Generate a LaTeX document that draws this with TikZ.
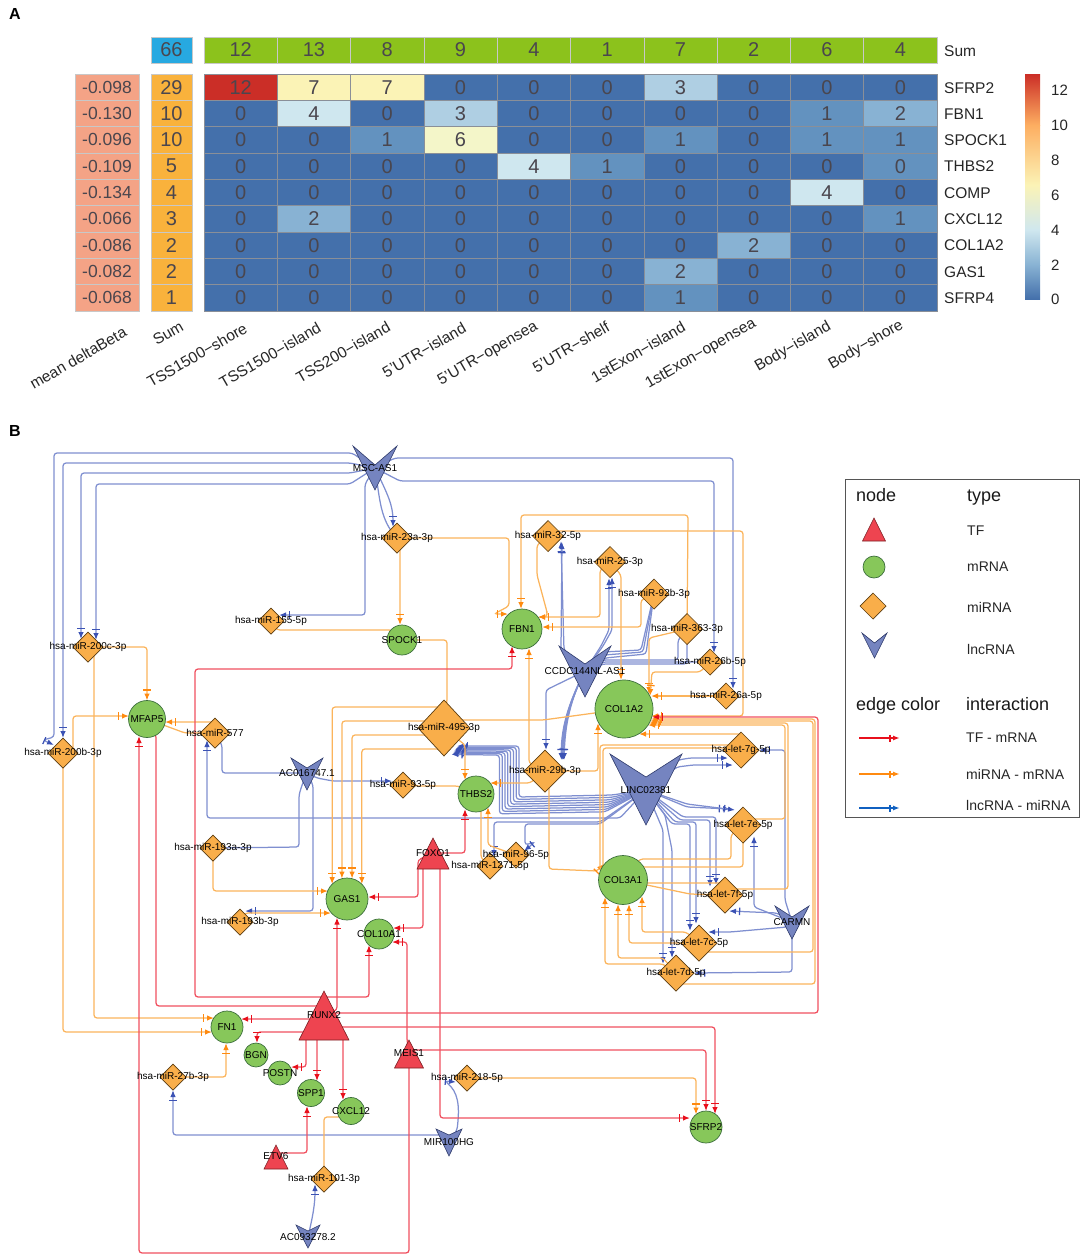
\documentclass[tikz,border=0pt]{standalone}
\usepackage{fontspec}
\setmainfont{Liberation Sans}
\usetikzlibrary{arrows.meta,shapes.geometric,calc}
\definecolor{h0}{HTML}{4470AB}\definecolor{h1}{HTML}{6392BF}\definecolor{h2}{HTML}{88B2D3}
\definecolor{h3}{HTML}{AFCFE3}\definecolor{h4}{HTML}{CFE7EF}\definecolor{h6}{HTML}{F4F6C9}
\definecolor{h7}{HTML}{FBF3B6}\definecolor{h12}{HTML}{CB2E27}
\definecolor{numc}{HTML}{4A464E}\definecolor{gridc}{HTML}{8A8F98}\definecolor{lightg}{HTML}{C8C8C8}
\definecolor{oline}{HTML}{FBB45C}\definecolor{otip}{HTML}{FF8A10}
\definecolor{bline}{HTML}{7F8FD0}\definecolor{btip}{HTML}{3B52B4}
\definecolor{rline}{HTML}{F0505F}\definecolor{rtip}{HTML}{E8101C}
\definecolor{vfill}{HTML}{7584C0}\definecolor{vdraw}{HTML}{2E3A6A}
\definecolor{tfill}{HTML}{EE4450}\definecolor{tdraw}{HTML}{7A1E22}
\definecolor{cfill}{HTML}{87C75A}\definecolor{cdraw}{HTML}{3C6E3C}
\definecolor{dfill}{HTML}{F9AE4A}\definecolor{ddraw}{HTML}{5C3D10}
\definecolor{legb}{HTML}{1060C0}\definecolor{legbox}{HTML}{555555}
\pgfdeclarelayer{edges}\pgfsetlayers{edges,main}
\newcommand\lb[1]{\makebox[0pt]{\raisebox{-.8pt}{#1}}}
\newcommand\dia[5]{\node[mirna,minimum size=#4] (#1) at (#2,#3) {\lb{#5}};}
\newcommand\mr[5]{\node[mrna,minimum size=#4] (#1) at (#2,#3) {\lb{#5}};}
\newcommand\tfn[7]{\filldraw[tfs] (#2,#3) -- ({#2+#5},#4) -- ({#2-#5},#4) -- cycle;
  \node[lab] (#1) at (#2,#6) {#7};}
\newcommand\lnc[8]{\filldraw[lncs] ({#2-#6},#3) -- (#2,#4) -- ({#2+#6},#3) -- (#2,#5) -- cycle;
  \node[lab] (#1) at (#2,#7) {#8};}
\tikzset{
 x=1pt,y=-1pt,
 lab/.style={inner sep=0pt,outer sep=0pt,font=\fontsize{10}{11}\selectfont,text=black},
 mirna/.style={diamond,draw=ddraw,fill=dfill,line width=.7pt,inner sep=0pt,outer sep=0pt,font=\fontsize{10}{11}\selectfont},
 mrna/.style={circle,draw=cdraw,fill=cfill,line width=.7pt,inner sep=0pt,outer sep=0pt,font=\fontsize{10}{11}\selectfont},
 tfs/.style={draw=tdraw,fill=tfill,line width=.6pt,line join=miter},
 lncs/.style={draw=vdraw,fill=vfill,line width=.6pt,line join=miter},
 cell/.style={rectangle,draw=gridc,line width=.6pt,minimum width=73.3pt,minimum height=26.33pt,inner sep=0pt,outer sep=0pt,text=numc,font=\fontsize{20}{22}\selectfont},
 sidecell/.style={rectangle,draw=lightg,line width=.6pt,minimum height=26.33pt,inner sep=0pt,outer sep=0pt,text=numc,font=\fontsize{20}{22}\selectfont},
 rowl/.style={anchor=west,inner sep=0pt,font=\fontsize{15.5}{17}\selectfont,text=black!85},
 coll/.style={rotate=30,inner sep=0pt,font=\fontsize{15.5}{17}\selectfont,text=black!85},
 cbl/.style={anchor=west,inner sep=0pt,font=\fontsize{15}{17}\selectfont,text=black!85},
 leg/.style={anchor=west,inner sep=0pt,font=\fontsize{14}{15}\selectfont,text=black!85},
 legh/.style={anchor=base west,inner sep=0pt,font=\fontsize{18}{20}\selectfont,text=black!90},
 panel/.style={inner sep=0pt,font=\fontsize{16}{18}\selectfont\bfseries},
 ol/.style={draw=oline,line width=1.25pt,rounded corners=3pt},
 bl/.style={draw=bline,line width=1.25pt,rounded corners=3pt},
 rl/.style={draw=rline,line width=1.25pt,rounded corners=3pt},
 ot/.style={ol,-{Bar[color=otip,width=7.5pt,length=1.2pt,sep=3pt]Latex[color=otip,length=7pt,width=5.5pt]}},
 bt/.style={bl,-{Bar[color=btip,width=7.5pt,length=1.2pt,sep=3pt]Latex[color=btip,length=7pt,width=5.5pt]}},
 rt/.style={rl,-{Bar[color=rtip,width=7.5pt,length=1.2pt,sep=3pt]Latex[color=rtip,length=7pt,width=5.5pt]}},
 lgarrow/.style={line width=1.8pt,-{Bar[width=7pt,length=1pt,sep=2pt]Latex[length=7pt,width=5pt]}},
}
\begin{document}
\begin{tikzpicture}
\path[use as bounding box] (0,0) rectangle (1084,1259);
\node[panel] (pA) at (15,14) {A};
\node[panel] (pB) at (15,431) {B};
% ---- heat map
\node[sidecell,minimum width=41pt,fill={rgb,255:red,39;green,169;blue,225}] (tot) at (171.5,50) {66};
\foreach \v [count=\c from 0] in {12,13,8,9,4,1,7,2,6,4}
  \node[sidecell,minimum width=73.3pt,fill={rgb,255:red,140;green,194;blue,28}] (top\c) at ({204+73.3*(\c+.5)},50) {\v};
\node[rowl] (sumr) at (944,51) {Sum};
\foreach \row [count=\r from 0] in {{12,7,7,0,0,0,3,0,0,0},{0,4,0,3,0,0,0,0,1,2},{0,0,1,6,0,0,1,0,1,1},{0,0,0,0,4,1,0,0,0,0},{0,0,0,0,0,0,0,0,4,0},{0,2,0,0,0,0,0,0,0,1},{0,0,0,0,0,0,0,2,0,0},{0,0,0,0,0,0,2,0,0,0},{0,0,0,0,0,0,1,0,0,0}}
  \foreach \v [count=\c from 0] in \row
    \node[cell,fill=h\v] (cell\r-\c) at ({204+73.3*(\c+.5)},{74+26.33*(\r+.5)}) {\v};
\node[cell,fill=h1] (cellx) at ({204+73.3*9.5},{74+26.33*3.5}) {0};
\foreach \v [count=\r from 0] in {29,10,10,5,4,3,2,2,1}
  \node[sidecell,minimum width=41pt,fill={rgb,255:red,249;green,178;blue,60}] (sm\r) at (171.5,{74+26.33*(\r+.5)}) {\v};
\foreach \v/\dy [count=\r from 0] in {-0.098/1,-0.130/2,-0.096/2,-0.109/1,-0.134/1,-0.066/2.5,-0.086/2.5,-0.082/2.5,-0.068/3}
  \node[sidecell,minimum width=64pt,fill={rgb,255:red,244;green,163;blue,134},font=\fontsize{17.5}{19}\selectfont] (md\r) at (107,{74+26.33*(\r+.5)}) {\raisebox{-\dy pt}{\v}};
\foreach \t [count=\r from 0] in {SFRP2,FBN1,SPOCK1,THBS2,COMP,CXCL12,COL1A2,GAS1,SFRP4}
  \node[rowl] (rl\r) at (944,{74.5+26.33*(\r+.5)}) {\t};
\foreach \t/\x/\y [count=\i] in {mean deltaBeta/78/358,Sum/168/333,TSS1500−shore/197/355,TSS1500−island/270/355,TSS200−island/343/352,5'UTR−island/424/350,5'UTR−opensea/488/354,5'UTR−shelf/571/347,1stExon−island/638/352,1stExon−opensea/701/354,Body−island/793/347,Body−shore/866/345}
  \node[coll] (cl\i) at (\x,\y) {\t};
% colour bar
\shade[bottom color=h0,top color=h2] (1025,299) rectangle (1040,265);
\shade[bottom color=h2,top color=h4] (1025,265) rectangle (1040,230);
\shade[bottom color=h4,top color=h7] (1025,230) rectangle (1040,185);
\shade[bottom color=h7,top color={rgb,255:red,253;green,174;blue,97}] (1025,185) rectangle (1040,125);
\shade[bottom color={rgb,255:red,253;green,174;blue,97},top color=h12] (1025,125) rectangle (1040,74);
\foreach \t/\y [count=\i] in {12/90,10/125,8/160,6/195,4/230,2/265,0/299}
  \node[cbl] (cb\i) at (1051,\y) {\t};
% ---- network nodes
\lnc{MSC}{375}{446}{465}{490}{22}{468}{MSC-AS1}
\lnc{CCDC}{585}{646}{664}{697}{26}{671}{CCDC144NL-AS1}
\lnc{LINC}{646}{754}{777}{825}{36}{790}{LINC02381}
\lnc{AC016}{307}{758}{768}{790}{16}{773}{AC016747.1}
\lnc{CARMN}{792}{906}{917}{939}{17}{922}{CARMN}
\lnc{MIR100}{449}{1129}{1135}{1156}{13}{1142}{MIR100HG}
\lnc{AC093}{308}{1225}{1231}{1248}{12}{1237}{AC093278.2}
\dia{mi23a}{397}{538}{30}{hsa-miR-23a-3p}
\dia{mi155}{271}{621}{26}{hsa-miR-155-5p}
\dia{mi200c}{88}{647}{30}{hsa-miR-200c-3p}
\dia{mi577}{215}{733}{30}{hsa-miR-577}
\dia{mi200b}{63}{753}{30}{hsa-miR-200b-3p}
\dia{mi93}{403}{785}{26}{hsa-miR-93-5p}
\dia{mi193a}{213}{848}{26}{hsa-miR-193a-3p}
\node[mirna,minimum width=52pt,minimum height=56pt] (mi495) at (444,728) {\lb{hsa-miR-495-3p}};
\dia{mi32}{548}{536}{31}{hsa-miR-32-5p}
\dia{mi25}{610}{562}{31}{hsa-miR-25-3p}
\dia{mi92b}{654}{594}{30}{hsa-miR-92b-3p}
\dia{mi363}{687}{629}{31}{hsa-miR-363-3p}
\dia{mi26b}{710}{662}{26}{hsa-miR-26b-5p}
\dia{mi26a}{726}{696}{26}{hsa-miR-26a-5p}
\dia{mi29b}{545}{771}{42}{hsa-miR-29b-3p}
\dia{l7g}{741}{750}{36}{hsa-let-7g-5p}
\dia{l7e}{743}{825}{36}{hsa-let-7e-5p}
\dia{l7f}{725}{895}{36}{hsa-let-7f-5p}
\dia{l7c}{699}{943}{36}{hsa-let-7c-5p}
\dia{l7d}{676}{973}{36}{hsa-let-7d-5p}
\dia{mi1271}{490}{866}{26}{}
\dia{mi96}{516}{855}{26}{}
\node[lab] (t1271) at (490,866) {hsa-miR-1271-5p};
\node[lab] (t96) at (516,855) {hsa-miR-96-5p};
\dia{mi193b}{240}{922}{26}{hsa-miR-193b-3p}
\dia{mi27b}{173}{1077}{26}{hsa-miR-27b-3p}
\dia{mi101}{324}{1179}{26}{hsa-miR-101-3p}
\dia{mi218}{467}{1078}{26}{hsa-miR-218-5p}
\mr{SPOCK}{402}{640}{30}{SPOCK1}
\mr{MFAP}{147}{719}{37}{MFAP5}
\mr{FBN}{522}{629}{40}{FBN1}
\mr{COL1}{624}{709}{58}{COL1A2}
\mr{THBS}{476}{794}{36}{THBS2}
\mr{COL3}{623}{880}{49}{COL3A1}
\mr{GAS}{347}{899}{42}{GAS1}
\mr{COL10}{379}{934}{30}{COL10A1}
\mr{FN}{227}{1027}{32}{FN1}
\mr{BGN}{256}{1055}{24}{BGN}
\mr{POSTN}{280}{1073}{24}{POSTN}
\mr{SPP}{311}{1093}{27}{SPP1}
\mr{CXCL}{351}{1111}{27}{CXCL12}
\mr{SFRP}{706}{1127}{32}{SFRP2}
\tfn{FOXO}{433}{838}{869}{16}{853}{FOXO1}
\tfn{RUNX}{324}{991}{1040}{25}{1015}{RUNX2}
\tfn{MEIS}{409}{1040}{1068}{14.5}{1053}{MEIS1}
\tfn{ETV}{276}{1145}{1169}{12}{1156}{ETV6}
% ---- edges
\begin{pgfonlayer}{edges}
% MSC-AS1
\draw[bt] (MSC.center) -- (352,453) -- (54,453) -- (54,737) -- (43,740) -- ($(mi200b)+(-9,-8)$);
\draw[bt] (MSC.center) -- (350,463) -| ($(mi200b)+(0,-15)$);
\draw[bt] (MSC.center) -- (350,473) -| ($(mi200c)+(-7,-8)$);
\draw[bt] (MSC.center) -- (350,484) -| ($(mi200c)+(8,-7)$);
\draw[bt] (MSC.center) -- (365,484) |- ($(mi155)+(8,-6)$);
\draw[bt] (MSC.center) .. controls (388,495) and (393,505) .. ($(mi23a)+(-4,-11)$);
\draw[bl] (MSC.center) .. controls (380,500) and (380,520) .. (mi23a.center);
\draw[bt] (MSC.center) -- (395,458) -| ($(mi26a)+(7,-7)$);
\draw[bt] (MSC.center) -- (400,481) -| ($(mi26b)+(4,-9)$);
% AC016747.1
\draw[bl] (AC016.center) -| (222,745) -- (mi577.center);
\draw[bt] (AC016.center) -- (317,778) -- (333,781) -- ($(mi93)+(-11,-4)$);
\draw[bl] (AC016.center) -- (302,785) -- (299,795) -- (299,847) -- (mi193a.center);
\draw[bt] (AC016.center) -- (313,785) -- (313,911) -- ($(mi193b)+(5,-11)$);
% LINC02381
\draw[bt] (LINC.center) -- (620,818) -- (207,818) -- ($(mi577)+(-8,7)$);
\foreach \i in {0,...,7}
  \draw[bt] (LINC.center) -- ({612-\i},{795+\i*2.4}) -- ({519-\i*2.8},{797+\i*2.4}) -- ({519-\i*2.8},{746+\i*1.3}) -- ($(mi495)+({13-\i*.8},{18+\i*1.2})$);
\draw[bt] (LINC.center) -- (600,822) -| ($(mi1271)+(4,-9)$);
\draw[bt] (LINC.center) -- (600,824) -- (525,824) -- (525,845) -- (535,842) -- ($(mi96)+(8,-4)$);
\draw[bt] (LINC.center) -- (678,760) -- (690,758) -- ($(l7g)+(-13,8)$);
\draw[bt] (LINC.center) -- (677,767) -- (693,765) -- ($(l7g)+(-8,15)$);
\draw[bt] (LINC.center) -- (687,807) -- ($(l7e)+(-13,-16)$);
\draw[bt] (LINC.center) -- (687,804) -- ($(l7e)+(-8,-15)$);
\draw[bt] (LINC.center) -- (683,817) -| ($(l7f)+(-9,-10)$);
\draw[bt] (LINC.center) -- (680,820) -| ($(l7f)+(-15,-8)$);
\draw[bt] (LINC.center) -- (675,822) -| ($(l7c)+(-3,-19)$);
\draw[bt] (LINC.center) -- (672,824) -| ($(l7c)+(-9,-12)$);
\draw[bt] (LINC.center) -- (663,830) -- ($(l7d)+(-13,-9)$);
\draw[bt] (LINC.center) -- (665,815) -- (672,850) -- ($(l7d)+(-4,-15)$);
% CCDC144NL-AS1
\draw[bt] (CCDC.center) -- (564,650) -- ($(mi32)+(13,5)$);
\draw[bt] (CCDC.center) -- (561,650) -- ($(mi32)+(14,6)$);
\draw[bt] (CCDC.center) -- (601,646) -- (609,630) -- ($(mi25)+(-1,16)$);
\draw[bt] (CCDC.center) -- (603,646) -- (612,630) -- ($(mi25)+(2,15)$);
\draw[bl] (CCDC.center) -- (603,652) -- (641,650) -- (mi92b.center);
\draw[bl] (CCDC.center) -- (604,655) -- (643,652) -- (mi92b.center);
\draw[bl] (CCDC.center) -- (605,658) -- (646,654) -- (mi92b.center);
\draw[bl] (CCDC.center) -- (603,660) -| (678,640) -- (mi363.center);
\draw[bl] (CCDC.center) -- (603,664) -| (687,650) -- (mi363.center);
\draw[bl] (CCDC.center) -- (603,662) -- (700,662) -- (mi26b.center);
\foreach \d in {-1,0,1,2,3}
  \draw[bt] (CCDC.center) .. controls (570,700) and ({562+\d},725) .. ($(mi29b)+({17+\d*.7},-11)$);
\draw[bt] (CCDC.center) -- (546,690) -- ($(mi29b)+(1,-21)$);
% CARMN
\draw[bt] (CARMN.center) -- (785,900) -- (785,750) -- (l7g.east);
\draw[bt] (CARMN.center) -- (754,907) -- ($(l7e)+(11,11)$);
\draw[bt] (CARMN.center) -- (777,913) -- ($(l7f)+(4,16)$);
\draw[bt] (CARMN.center) -- (787,927) -- (730,932) -- ($(l7c)+(9,-11)$);
\draw[bt] (CARMN.center) -- (792,972) -- (l7d.east);
% others
\draw[bt] (MIR100.center) -- (443,1135) -| ($(mi27b)+(0,13)$);
\draw[bt] (MIR100.center) -- (457,1130) .. controls (460,1105) and (458,1092) .. (445,1081) -- ($(mi218)+(-11,4)$);
\draw[bt] (AC093.center) .. controls (313,1215) and (315,1205) .. ($(mi101)+(-9,5)$);
% orange
\draw[ot] (mi23a.center) -- (400,545) -- ($(SPOCK)+(-2,-15)$);
\draw[ot] (mi23a.center) -| (509,606) -- (494,614) -- ($(FBN)+(-14,-15)$);
\draw[ot] (mi32.center) -- (537,545) -- (537,575) -- (547,612) -- (547,617) -- ($(FBN)+(16,-12)$);
\draw[ot] (mi25.center) -- (600,570) |- ($(FBN)+(16,-12)$);
\draw[ot] (mi92b.center) -- (641,600) |- ($(FBN)+(20,-2)$);
\draw[ot] (mi363.center) -- (688,515) -| ($(FBN)+(-1,-20)$);
\draw[ot] (mi32.center) -- (550,531) -- (743,531) -- (743,716) -- ($(COL1)+(27,7)$);
\draw[ot] (mi25.center) -- (621,575) -- ($(COL1)+(-3,-29)$);
\draw[ot] (mi363.center) -- (649,638) -- ($(COL1)+(25,-15)$);
\draw[ot] (mi26b.center) -- (700,672) -- (652,672) -- ($(COL1)+(26,-13)$);
\draw[ot] (mi26a.center) -- ($(COL1)+(27,-13)$);
\draw[ol] (mi495.center) -- (460,720) -- (543,720) -- (COL1.center);
\draw[ot] (mi29b.center) -| ($(COL1)+(-26,14)$);
\draw[ot] (mi29b.center) -- (529,763) -- ($(FBN)+(7,19)$);
\draw[ot] (mi29b.center) -- (530,783) -- ($(THBS)+(14,-11)$);
\draw[ot] (mi29b.center) -- (549,785) -- (549,869) -- (597,871) -- ($(COL3)+(-19,-16)$);
\draw[ot] (mi495.center) -- (465,745) -- ($(THBS)+(-11,-14)$);
\draw[ol] (mi495.center) -- (447,700) |- (SPOCK.center);
\draw[ol] (mi155.center) -- (277,630) -- (392,630) -- (SPOCK.center);
\draw[ot] (mi495.center) -- (444,707) -| (GAS.135);
\draw[ot] (mi495.center) -- (444,721) -| (GAS.104);
\draw[ot] (mi495.center) -- (444,735) -| (GAS.76);
\draw[ot] (mi495.center) -- (444,749) -| (GAS.45);
\draw[ot] (mi200c.center) -| ($(MFAP)+(0,-18.5)$);
\draw[ot] (mi200b.center) -- (73,753) -- (73,716) -- ($(MFAP)+(-18,-3)$);
\draw[ot] (mi577.center) -- (215,722) -- ($(MFAP)+(18,3)$);
\draw[ol] (mi577.center) -- (185,733) -- (MFAP.center);
\draw[ot] (mi200c.center) -- (94,650) |- ($(FN)+(-13,-9)$);
\draw[ot] (mi200b.center) |- ($(FN)+(-15,5)$);
\draw[ot] (mi193a.center) |- ($(GAS)+(-19,-8)$);
\draw[ot] (mi193b.center) -- (245,913) -- ($(GAS)+(-16,14)$);
\draw[ot] (mi27b.center) -| ($(FN)+(-1,16)$);
\draw[ol] (mi101.center) |- (345,1117) -- (CXCL.center);
\draw[ot] (mi218.center) -| ($(SFRP)+(-10,-12.5)$);
\draw[ol] (mi93.center) -- (420,786) -- (458,786) -- (THBS.center);
\draw[ot] (mi96.center) -- (488,845) -- ($(THBS)+(12,13)$);
\draw[ol] (mi1271.center) -- (481,858) -- (481,800) -- (THBS.center);
\draw[ot] (l7g.center) -- (741,734) -- ($(COL1)+(15,25)$);
\draw[ol] (l7g.center) -- (741,748) -- (603,748) -- (603,868) -- (COL3.center);
\draw[ol] (l7g.center) -- (741,745) -- (600,745) -- (600,870) -- (COL3.center);
\draw[ot] (l7e.center) -- (743,819) -- (785,819) -- (785,725) -- ($(COL1)+(24,16)$);
\draw[ot] (l7f.center) -- (725,889) -- (788,889) -- (788,723) -- ($(COL1)+(25,14)$);
\draw[ot] (l7c.center) -- (699,952) -- (813,952) -- (813,721) -- ($(COL1)+(26,12)$);
\draw[ot] (l7d.center) -- (676,984) -- (815,984) -- (815,719) -- ($(COL1)+(27,10)$);
\draw[ol] (l7e.center) -- (731,835) -- (731,859) -- (640,859) -- (COL3.center);
\draw[ol] (l7e.center) -- (743,867) -- (640,867) -- (COL3.center);
\draw[ol] (l7f.center) -- (725,883) -- (640,883) -- (COL3.center);
\draw[ol] (l7f.center) -- (690,894) -- (COL3.center);
\draw[ot] (l7c.center) -- (686,932) -| ($(COL3)+(19,16)$);
\draw[ot] (l7c.center) -| ($(COL3)+(6,24)$);
\draw[ot] (l7d.center) -- (663,958) -| ($(COL3)+(-5,24)$);
\draw[ot] (l7d.center) -- (663,964) -| ($(COL3)+(-18,17)$);
% red
\draw[rt] (RUNX.center) -- (335,1013) -- (818,1013) -- (818,717) -- ($(COL1)+(28,8)$);
\draw[rt] (RUNX.center) -- (337,1010) -- ($(GAS)+(-10,18.5)$);
\draw[rt] (RUNX.center) -- (324,997) -| ($(COL10)+(-10,11)$);
\draw[rt] (RUNX.center) -- (324,997) -- (195,997) -- (195,669) -| ($(FBN)+(-10,17)$);
\draw[rl] (RUNX.center) -- (322,1006) -- (156,1006) -- (156,735) -- (MFAP.center);
\draw[rt] (MEIS.center) -- (409,1253) -- (139,1253) -- ($(MFAP)+(-8,17)$);
\draw[rt] (MEIS.center) -- (407,1040) -- (407,942) -- ($(COL10)+(13,8)$);
\draw[rt] (MEIS.center) -- (409,1050) -| (SFRP.north);
\draw[rt] (RUNX.center) -- (340,1027) -| ($(SFRP)+(9,-13)$);
\draw[rt] (FOXO.center) -- (440,860) |- ($(SFRP)+(-16,-9)$);
\draw[rt] (FOXO.center) -- (418,860) |- ($(GAS)+(21,-2)$);
\draw[rt] (FOXO.center) -- (423,860) |- ($(COL10)+(14,-6)$);
\draw[rt] (FOXO.center) -| ($(THBS)+(-11,15)$);
\draw[rt] (RUNX.center) -- (320,1019) -- ($(FN)+(14,-8)$);
\draw[rt] (RUNX.center) -- (310,1032) -| ($(BGN)+(1,-12)$);
\draw[rt] (RUNX.center) -- (306,1030) |- ($(POSTN)+(11,-6)$);
\draw[rt] (RUNX.center) -- (317,1030) -- ($(SPP)+(6,-12)$);
\draw[rt] (RUNX.center) -- (343,1030) -- ($(CXCL)+(-8,-11)$);
\draw[rt] (ETV.center) -- (276,1153) -| ($(SPP)+(-4,13)$);
\end{pgfonlayer}
% ---- legend
\node[draw=legbox,line width=.8pt,minimum width=234pt,minimum height=338pt,inner sep=0pt,anchor=north west] (legbox) at (845,479) {};
\node[legh] (lgn) at (856,501) {node};
\node[legh] (lgt) at (967,501) {type};
\tfn{lgtf}{874}{518}{541}{11.5}{531}{}
\node[mrna,minimum size=22pt] (lgm) at (874,567) {};
\node[mirna,minimum size=26pt] (lgd) at (873,606) {};
\lnc{lgv}{874.5}{633}{643}{658}{12.5}{645}{}
\node[leg] (t1) at (967,531) {TF};
\node[leg] (t2) at (967,567) {mRNA};
\node[leg] (t3) at (967,607) {miRNA};
\node[leg] (t4) at (967,649) {lncRNA};
\node[legh] (lge) at (856,710) {edge color};
\node[legh] (lgi) at (966,710) {interaction};
\node[leg] (t5) at (966,738) {TF - mRNA};
\node[leg] (t6) at (966,774) {miRNA - mRNA};
\node[leg] (t7) at (966,805) {lncRNA - miRNA};
\coordinate (la1) at (859,738);\coordinate (lb1) at (900,738);
\coordinate (la2) at (859,774);\coordinate (lb2) at (900,774);
\coordinate (la3) at (859,808);\coordinate (lb3) at (900,808);
\draw[lgarrow,rtip] (la1) -- (lb1);
\draw[lgarrow,otip] (la2) -- (lb2);
\draw[lgarrow,legb] (la3) -- (lb3);
\end{tikzpicture}
\end{document}
